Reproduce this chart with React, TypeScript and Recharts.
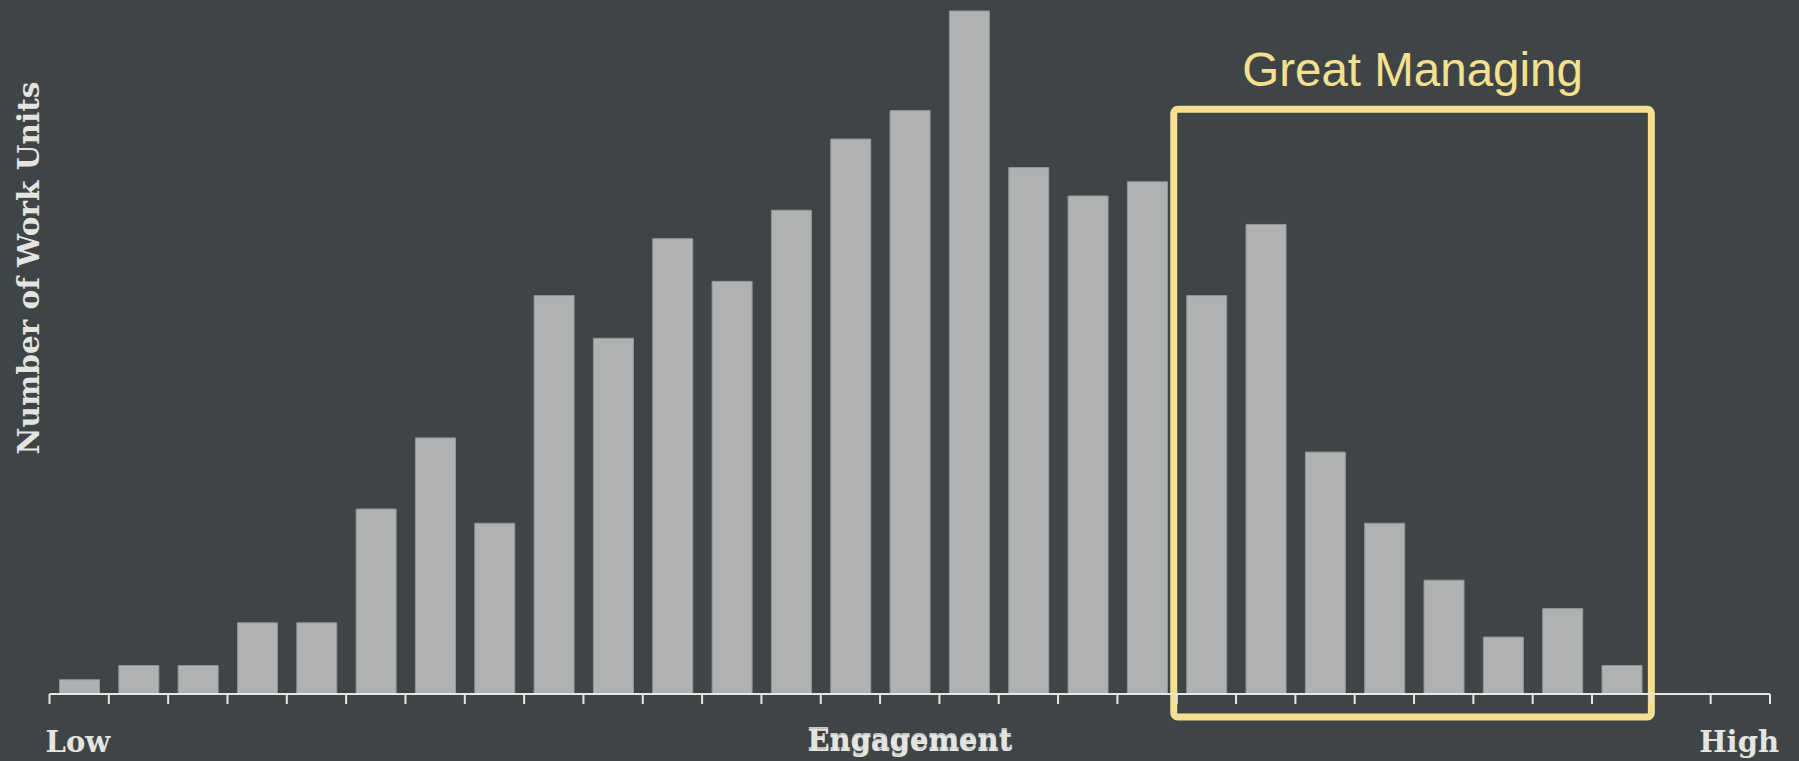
import React from "react";
import { BarChart, Bar, XAxis, YAxis, ReferenceArea, Label } from "recharts";

// work units per engagement bin, low -> high
const unitCounts = [1, 2, 2, 5, 5, 13, 18, 12, 28, 25, 32, 29, 34, 39, 41, 48, 37, 35, 36, 28, 33, 17, 12, 8, 4, 6, 2];
const binEdges = Array.from({ length: 30 }, (_, i) => i);
const axisLabels = { low: "Low", mid: "Engagement", high: "High" };
const yTitle = "Number of Work Units";
const highlight = { from: 18.95, to: 27, bottom: -1.62, top: 41.1, title: "Great Managing" };

const BG = "#3f4546";
const BAR = "#b0b2b1";
const TEXT = "#e4e4e0";
const GOLD = "#f6e08f";
const SERIF = "'DejaVu Serif', serif";

const data = unitCounts.map((n, i) => ({ bin: i + 0.5, units: n }));

const XAxisTitles = ({ viewBox }: any) => {
  const { x, width } = viewBox;
  const base = 752;
  const common = { fill: TEXT, fontFamily: SERIF, fontWeight: 700, fontSize: 29 };
  return (
    <g>
      <text x={x - 4} y={base} textAnchor="start" {...common}>{axisLabels.low}</text>
      {/* doubled title, slightly offset */}
      <text x={x + width / 2} y={base - 3} textAnchor="middle" {...common} opacity={0.85}>{axisLabels.mid}</text>
      <text x={x + width / 2} y={base - 1} textAnchor="middle" {...common}>{axisLabels.mid}</text>
      <text x={x + width + 9} y={base} textAnchor="end" {...common}>{axisLabels.high}</text>
    </g>
  );
};

const YAxisTitle = () => (
  <text
    x={28.5}
    y={268}
    transform="rotate(-90 28.5 268)"
    textAnchor="middle"
    dominantBaseline="central"
    fill={TEXT}
    fontFamily={SERIF}
    fontWeight={700}
    fontSize={29.5}
  >
    {yTitle}
  </text>
);

export default function App() {
  return (
    <div style={{ position: "fixed", left: 0, top: 0, width: 1799, height: 761, background: BG }}>
      <BarChart width={1799} height={761} data={data} margin={{ top: 11, right: 29, bottom: 0, left: 0 }}>
        <YAxis
          type="number"
          domain={[0, 48]}
          width={49.5}
          axisLine={false}
          tickLine={false}
          tick={false}
          label={<YAxisTitle />}
        />
        <XAxis
          type="number"
          dataKey="bin"
          domain={[0, 29]}
          ticks={binEdges}
          interval={0}
          height={67}
          axisLine={{ stroke: "#e6e6e3", strokeWidth: 2 }}
          tickLine={{ stroke: "#e6e6e3", strokeWidth: 2 }}
          tickSize={10}
          tick={() => <g />}
        >
          <Label content={<XAxisTitles />} />
        </XAxis>
        <Bar dataKey="units" fill={BAR} stroke="#939695" strokeWidth={1} barSize={40} isAnimationActive={false} />
        <ReferenceArea
          x1={highlight.from}
          x2={highlight.to}
          y1={highlight.bottom}
          y2={highlight.top}
          ifOverflow="visible"
          fill="none"
          stroke={GOLD}
          strokeWidth={7}
          radius={4}
        >
          <Label
            value={highlight.title}
            position="top"
            offset={23}
            fill={GOLD}
            fontFamily="'Liberation Sans', Arial, sans-serif"
            fontSize={47.5}
          />
        </ReferenceArea>
      </BarChart>
    </div>
  );
}
